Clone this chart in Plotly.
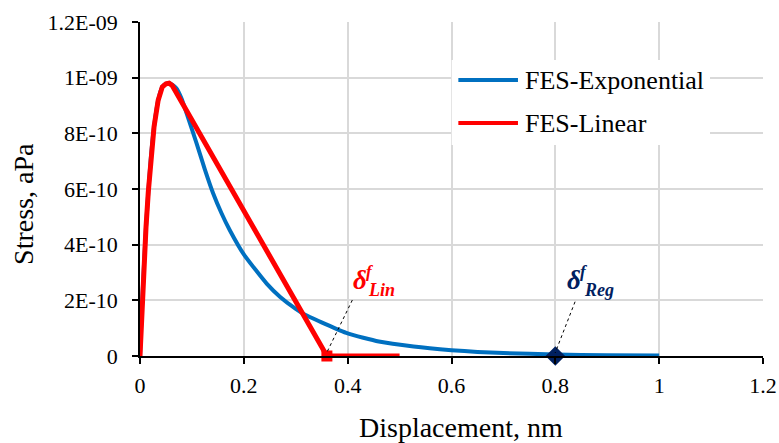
import plotly.graph_objects as go

# ---- data ----
exp_x = [0, 0.002, 0.005, 0.008, 0.0116, 0.016, 0.0205, 0.027, 0.035, 0.043, 0.05, 0.056,
         0.062, 0.07, 0.08, 0.09, 0.109, 0.125, 0.141, 0.157, 0.173, 0.2, 0.244, 0.27, 0.3,
         0.318, 0.4, 0.46, 0.527, 0.6, 0.65, 0.7, 0.8, 0.9, 1.0]
exp_y = [0, 0.10e-9, 0.225e-9, 0.34e-9, 0.464e-9, 0.59e-9, 0.704e-9, 0.823e-9, 0.919e-9,
         0.967e-9, 0.978e-9, 0.98e-9, 0.975e-9, 0.962e-9, 0.925e-9, 0.871e-9, 0.764e-9,
         0.67e-9, 0.584e-9, 0.513e-9, 0.452e-9, 0.365e-9, 0.26e-9, 0.212e-9, 0.169e-9,
         0.148e-9, 0.081e-9, 0.052e-9, 0.034e-9, 0.021e-9, 0.0145e-9, 0.0105e-9, 0.0055e-9,
         0.0028e-9, 0.0015e-9]

lin_x = [0, 0.002, 0.005, 0.008, 0.0116, 0.016, 0.0205, 0.027, 0.035, 0.043, 0.05, 0.056,
         0.062, 0.36, 0.5]
lin_y = [0, 0.10e-9, 0.225e-9, 0.34e-9, 0.464e-9, 0.59e-9, 0.704e-9, 0.823e-9, 0.919e-9,
         0.967e-9, 0.978e-9, 0.98e-9, 0.972e-9, 0, 0]

lin_fail_x = [0.36]
lin_fail_y = [0]
reg_fail_x = [0.8]
reg_fail_y = [0]

x_ticks = [0, 0.2, 0.4, 0.6, 0.8, 1.0, 1.2]
x_tick_labels = ["0", "0.2", "0.4", "0.6", "0.8", "1", "1.2"]
y_ticks = [0, 2e-10, 4e-10, 6e-10, 8e-10, 1e-9, 1.2e-9]
y_tick_labels = ["0", "2E-10", "4E-10", "6E-10", "8E-10", "1E-09", "1.2E-09"]

series_names = ["FES-Exponential", "FES-Linear"]
x_title = "Displacement, nm"
y_title = "Stress, aPa"

# ---- styling ----
BLUE = "#0070C0"
RED = "#FF0000"
NAVY = "#002060"
FONT = "Liberation Serif"

fig = go.Figure()
fig.add_trace(go.Scatter(x=exp_x, y=exp_y, mode="lines", name=series_names[0],
                         line=dict(color=BLUE, width=4, shape="spline", smoothing=0.5),
                         cliponaxis=False, showlegend=False))
fig.add_trace(go.Scatter(x=lin_x, y=lin_y, mode="lines", name=series_names[1],
                         line=dict(color=RED, width=5),
                         cliponaxis=False, showlegend=False))
fig.add_trace(go.Scatter(x=lin_fail_x, y=lin_fail_y, mode="markers",
                         marker=dict(symbol="square", size=11, color=RED),
                         cliponaxis=False, showlegend=False))
fig.add_trace(go.Scatter(x=reg_fail_x, y=reg_fail_y, mode="markers",
                         marker=dict(symbol="diamond", size=15, color=NAVY),
                         cliponaxis=False, showlegend=False))

axis_common = dict(
    showline=True, linecolor="black", linewidth=1.5,
    ticks="outside", ticklen=6, tickcolor="black", tickwidth=1.5,
    showgrid=True, gridcolor="#D9D9D9", gridwidth=1.5,
    zeroline=False, automargin=False,
    tickfont=dict(family=FONT, size=22, color="black"),
)
fig.update_xaxes(range=[0, 1.2], tickvals=x_ticks, ticktext=x_tick_labels,
                 ticklabelstandoff=3, **axis_common)
fig.update_yaxes(range=[0, 1.2e-9], tickvals=y_ticks, ticktext=y_tick_labels,
                 ticklabelstandoff=10, **axis_common)

annotations = [
    dict(text=x_title, xref="paper", yref="paper", x=0.515, y=-0.215,
         xanchor="center", yanchor="middle", showarrow=False,
         font=dict(family=FONT, size=28, color="black")),
    dict(text=y_title, xref="paper", yref="paper", x=-0.188, y=0.455,
         xanchor="center", yanchor="middle", showarrow=False, textangle=-90,
         font=dict(family=FONT, size=28, color="black")),
]

# failure-point labels
for (dx, dy, fx, fy, sx, sy, sub, col) in [
    (0.4229, 0.272e-9, 0.443, 0.305e-9, 0.466, 0.236e-9, "Lin", RED),
    (0.835, 0.272e-9, 0.855, 0.305e-9, 0.884, 0.236e-9, "Reg", NAVY),
]:
    annotations.append(dict(text="<b><i>δ</i></b>", x=dx, y=dy, xref="x", yref="y",
                            showarrow=False, xanchor="center", yanchor="middle",
                            font=dict(family=FONT, size=27, color=col)))
    annotations.append(dict(text="<b><i>f</i></b>", x=fx, y=fy, xref="x", yref="y",
                            showarrow=False, xanchor="center", yanchor="middle",
                            font=dict(family=FONT, size=17, color=col)))
    annotations.append(dict(text="<b><i>" + sub + "</i></b>", x=sx, y=sy, xref="x", yref="y",
                            showarrow=False, xanchor="center", yanchor="middle",
                            font=dict(family=FONT, size=18, color=col)))

# legend (drawn manually to match long line samples)
leg_items = [(series_names[0], BLUE, 0.826), (series_names[1], RED, 0.6976)]
shapes = [dict(type="rect", xref="paper", yref="paper", x0=0.5003, x1=0.9149,
               y0=0.6317, y1=0.886, fillcolor="white", line=dict(width=0), layer="above")]
for name, col, yy in leg_items:
    shapes.append(dict(type="line", xref="paper", yref="paper", x0=0.511, x1=0.6067,
                       y0=yy, y1=yy, line=dict(color=col, width=4), layer="above"))
    annotations.append(dict(text=name, xref="paper", yref="paper", x=0.6148, y=yy,
                            xanchor="left", yanchor="middle", showarrow=False,
                            font=dict(family=FONT, size=26, color="black")))

# dotted leader lines
shapes.append(dict(type="line", xref="x", yref="y", x0=0.409, y0=0.201e-9, x1=0.3597, y1=0.012e-9,
                   line=dict(color="black", width=1, dash="dot")))
shapes.append(dict(type="line", xref="x", yref="y", x0=0.838, y0=0.195e-9, x1=0.7996, y1=0.011e-9,
                   line=dict(color="black", width=1, dash="dot")))

fig.update_layout(
    width=779, height=443,
    margin=dict(l=140, r=16, t=22, b=87),
    paper_bgcolor="white", plot_bgcolor="white",
    annotations=annotations, shapes=shapes,
    showlegend=False,
)

# remove the page's default body margin so the figure fills the window exactly
fig.write_html("out.html",
               config={"displayModeBar": False},
               post_script="document.body.style.margin='0';document.body.style.overflow='hidden';")
